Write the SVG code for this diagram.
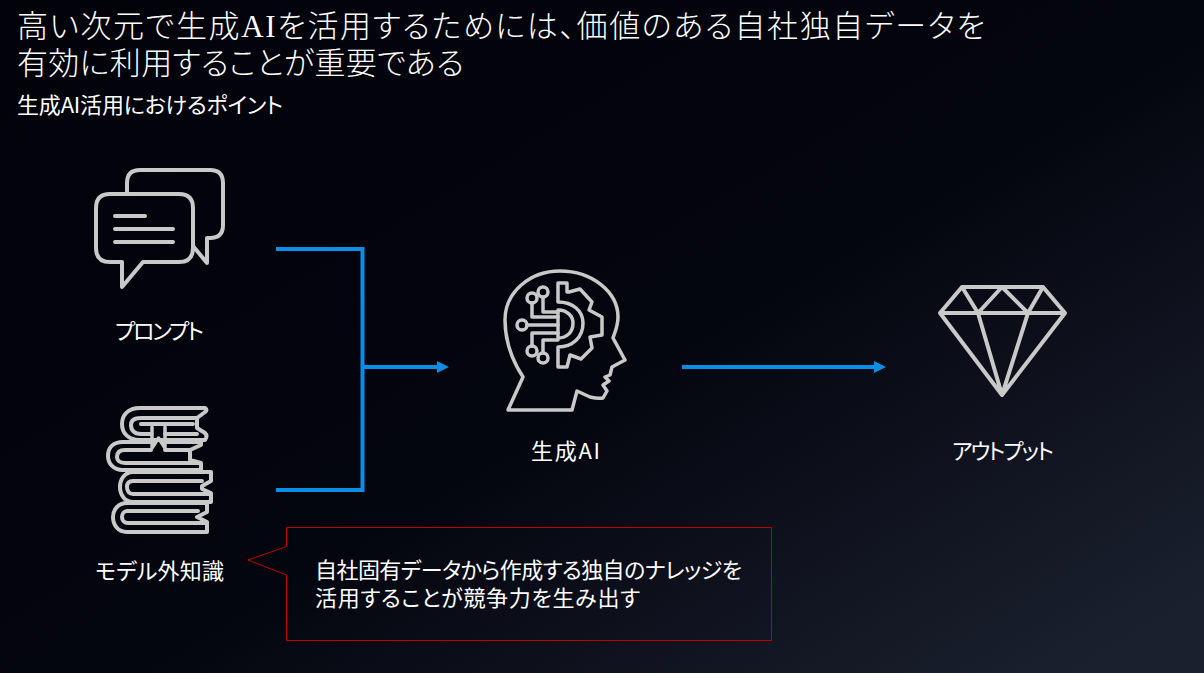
<svg xmlns="http://www.w3.org/2000/svg" width="1204" height="673" viewBox="0 0 1204 673">
<defs>
<linearGradient id="bg" gradientUnits="userSpaceOnUse" x1="330" y1="-120" x2="874" y2="793"><stop offset="0" stop-color="#01020a"/><stop offset="0.55" stop-color="#04060f"/><stop offset="1" stop-color="#1b202e"/></linearGradient>
<marker id="arr" markerUnits="userSpaceOnUse" markerWidth="13" markerHeight="12" refX="4" refY="6" orient="auto"><path d="M0 0L12 6L0 12z" fill="#0b8fe6"/></marker>
</defs>
<style>
text{font-family:"Noto Sans CJK JP","Noto Sans",sans-serif;fill:#fff;font-weight:400;font-feature-settings:"palt"}
.t{font-family:"Liberation Serif","Noto Sans CJK JP",serif;font-size:31px;font-weight:300}
.l{font-size:22px}
.ic{fill:none;stroke:#c9c9c9;stroke-width:4;stroke-linejoin:round;stroke-linecap:round}
.ic3{fill:none;stroke:#c9c9c9;stroke-width:3.500;stroke-linejoin:round;stroke-linecap:round}
.cn{fill:none;stroke:#0b8fe6;stroke-width:4}
</style>
<rect width="1204" height="673" fill="url(#bg)"/>
<g id="title">
<text class="t" x="17" y="37" textLength="968">高い次元で生成AIを活用するためには、価値のある自社独自データを</text>
<text class="t" x="17" y="74" textLength="447">有効に利用することが重要である</text>
<text class="l" x="17" y="113" textLength="266">生成AI活用におけるポイント</text>
</g>
<g id="connectors">
<path class="cn" d="M276 249H362.500V490H276"/>
<path class="cn" d="M362.500 367H441" marker-end="url(#arr)"/>
<path class="cn" d="M682 367H878" marker-end="url(#arr)"/>
</g>
<g id="node-prompt">
<path class="ic" d="M127 192V183Q127 170 140 170H210Q223 170 223 183V225Q223 238 210 238H207V263L193 246"/>
<path class="ic" d="M110 194H179Q193 194 193 208V248Q193 262 179 262H143L122 287V262H110Q96 262 96 248V208Q96 194 110 194Z"/>
<path class="ic" d="M115 216H145M115 229H173M115 242H173"/>
<text class="l" x="115" y="339" textLength="89">プロンプト</text>
</g>
<g id="node-knowledge">
<path class="ic" d="M205 408H140C128 408 122 415 122 424C122 433 128 440 140 440H205Q208 436 205 433L197 428V418L205 412Q208 410 205 408ZM197 418H141C133 418 131 421 131 425C131 430 134 434 141 434H151M141 424H193M165 434H197"/>
<path class="ic3" d="M152 427V448L158.500 438L165 448V427"/>
<path class="ic" d="M201 442V445L190 450V460L201 463V470H123C113 470 108 463 108 456C108 448 113 442 123 442H151M165 442H201M190 450H165M151 450H125C119 450 117 453 117 457C117 460 119 463 125 463H201"/>
<path class="ic" d="M211 472V481L202 486V489L211 493V502H133C125 502 120 495 120 487C120 479 125 472 133 472ZM202 481H133C129 481 127 483 127 487C127 491 129 494 133 494H211"/>
<path class="ic" d="M207 503V512L197 517L207 522V532H127C118 532 113 525 113 517C113 510 118 503 127 503ZM198 511H127C124 511 122 514 122 517C122 520 124 523 128 523H207"/>
<text class="l" x="95" y="579" textLength="129">モデル外知識</text>
</g>
<g id="node-ai">
<path class="ic3" d="M508 410L523 377C512 360 505 340 505 320C505 292 530 271 560 271C592 271 618 292 618 317C618 326 615 332 613 338L625 360L612 367L610 375L605 377L609 381L603 385L607 391L603 398C598 399 594 398 590 397L577 391L572 410Z"/>
<path class="ic3" d="M558 283H567V292L569 292L580 289L592 302L589 310L602 317V335L590 337L592 348L581 359L570 355L567 367H558V347C573 347 583 337 583 323C583 311 573 302 558 302Z"/>
<path class="ic3" d="M558 310C567 310 573 316 573 323C573 332 567 338 558 338Z"/>
<path class="ic3" d="M532 303V317H558M543 297V312H558M527 325H558M532 346V333H558M543 353V340H558"/>
<circle class="ic3" cx="532" cy="298" r="5"/><circle class="ic3" cx="543" cy="292" r="5"/><circle class="ic3" cx="522" cy="325" r="5"/><circle class="ic3" cx="532" cy="351" r="5"/><circle class="ic3" cx="543" cy="358" r="5"/>
<text class="l" x="531" y="459" textLength="69">生成AI</text>
</g>
<g id="node-output">
<path class="ic" d="M962 287H1043L1065 313L1002 395L940 313ZM940 313H1065M962 287L978 313L1002 287L1028 313L1043 287M978 313L1002 395L1028 313"/>
<text class="l" x="952" y="459" textLength="102">アウトプット</text>
</g>
<g id="callout">
<path d="M286.500 527.500H771.500V640.500H286.500V575L248 560L286.500 546.500Z" fill="none" stroke="#c00000" stroke-width="1"/>
<text class="l" x="315" y="578" textLength="427">自社固有データから作成する独自のナレッジを</text>
<text class="l" x="315" y="606" textLength="325">活用することが競争力を生み出す</text>
</g>
</svg>
